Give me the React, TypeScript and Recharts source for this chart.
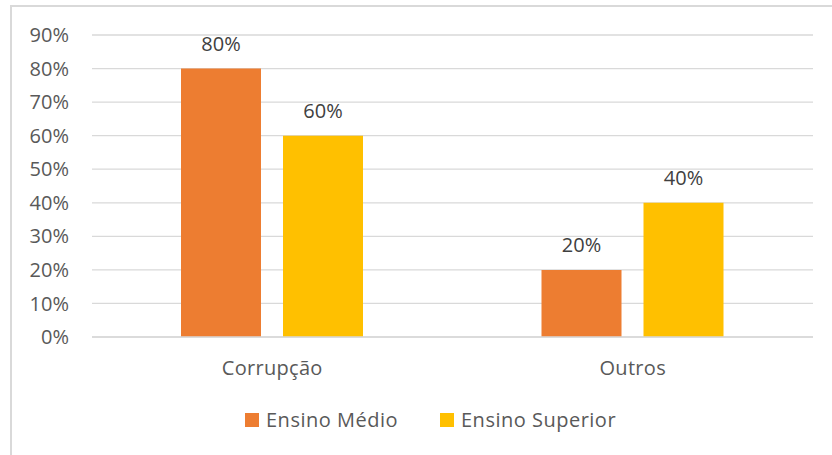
import { BarChart, Bar, XAxis, YAxis, CartesianGrid, LabelList } from "recharts";

const categories = ["Corrupção", "Outros"];
const ensinoMedio = [80, 20];
const ensinoSuperior = [60, 40];
const yTicks = [0, 10, 20, 30, 40, 50, 60, 70, 80, 90];

const data = categories.map((name, i) => ({
  name,
  medio: ensinoMedio[i],
  superior: ensinoSuperior[i],
}));

const FONT = "'Open Sans', sans-serif";
const TEXT = "#595959";
const GRID = "#d9d9d9";

const legendItems = [
  { label: "Ensino Médio", color: "#ED7D31" },
  { label: "Ensino Superior", color: "#FFC000" },
];

export default function App() {
  return (
    <div
      style={{
        position: "absolute",
        left: 0,
        top: 0,
        width: 832,
        height: 455,
        overflow: "hidden",
        background: "#fff",
        fontFamily: FONT,
      }}
    >
      <div
        style={{
          position: "absolute",
          left: 10,
          top: 5,
          width: 900,
          height: 600,
          border: `2px solid ${GRID}`,
        }}
      />
      <BarChart
        width={832}
        height={455}
        data={data}
        margin={{ top: 35, right: 19, left: 0, bottom: 78 }}
        barSize={80}
        barGap={22}
        style={{ position: "absolute", left: 0, top: 0 }}
      >
        <CartesianGrid vertical={false} stroke={GRID} strokeWidth={1.3} />
        <XAxis
          dataKey="name"
          axisLine={{ stroke: GRID, strokeWidth: 1.3 }}
          tickLine={false}
          tickSize={0}
          tickMargin={24}
          height={40}
          tick={{ fill: TEXT, fontSize: 20, fontFamily: FONT, letterSpacing: 0.3 }}
        />
        <YAxis
          width={92}
          domain={[0, 90]}
          ticks={yTicks}
          interval={0}
          axisLine={false}
          tickLine={false}
          tickSize={0}
          tickMargin={23}
          tickFormatter={(v) => `${v}%`}
          tick={{ fill: TEXT, fontSize: 20, fontFamily: FONT }}
        />
        <Bar dataKey="medio" fill="#ED7D31" isAnimationActive={false}>
          <LabelList
            dataKey="medio"
            position="top"
            offset={18}
            formatter={(v: number) => `${v}%`}
            style={{ fill: "#404040", fontSize: 20, fontFamily: FONT }}
          />
        </Bar>
        <Bar dataKey="superior" fill="#FFC000" isAnimationActive={false}>
          <LabelList
            dataKey="superior"
            position="top"
            offset={18}
            formatter={(v: number) => `${v}%`}
            style={{ fill: "#404040", fontSize: 20, fontFamily: FONT }}
          />
        </Bar>
      </BarChart>
      <div
        style={{
          position: "absolute",
          left: 245,
          top: 406,
          display: "flex",
          alignItems: "center",
          gap: 42,
          color: TEXT,
          fontSize: 20,
          letterSpacing: 0.5,
          whiteSpace: "nowrap",
        }}
      >
        {legendItems.map((it) => (
          <div key={it.label} style={{ display: "flex", alignItems: "center", gap: 7 }}>
            <span style={{ width: 14, height: 14, background: it.color, display: "inline-block" }} />
            <span>{it.label}</span>
          </div>
        ))}
      </div>
    </div>
  );
}
